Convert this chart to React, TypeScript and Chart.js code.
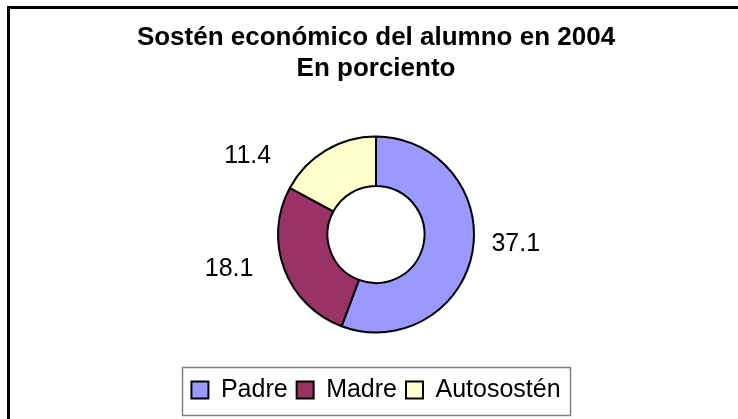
import React, { useEffect, useRef } from "react";
import { Chart, registerables } from "chart.js";

Chart.register(...registerables);

const TITLE_LINES = ["Sostén económico del alumno en 2004", "En porciento"];
const CATEGORIES = ["Padre", "Madre", "Autosostén"];
const VALUES = [37.1, 18.1, 11.4];
const VALUE_LABELS = ["37.1", "18.1", "11.4"];
const COLORS = ["#9999FF", "#993366", "#FFFFCC"];
// small nudges for the data labels relative to their computed anchor
const LABEL_NUDGE: [number, number][] = [
  [-1, -16],
  [-13, -16],
  [-55, 44],
];

const FONT = "'Liberation Sans', Arial, sans-serif";

const framePlugin = {
  id: "frame",
  beforeDraw(chart: any) {
    const ctx = chart.ctx;
    ctx.save();
    ctx.fillStyle = "#ffffff";
    ctx.fillRect(0, 0, chart.width, chart.height);
    ctx.fillStyle = "#000000";
    ctx.fillRect(7, 6, 3, chart.height - 6);
    ctx.fillRect(7, 6, chart.width - 7, 3);
    ctx.restore();
  },
  afterDraw(chart: any) {
    const ctx = chart.ctx;
    const legend = chart.legend;
    if (legend && legend.legendHitBoxes && legend.legendHitBoxes.length) {
      const hb = legend.legendHitBoxes;
      const first = hb[0];
      const last = hb[hb.length - 1];
      const cy = first.top + first.height / 2;
      const left = first.left - 9;
      const right = last.left + last.width + 10;
      ctx.save();
      ctx.strokeStyle = "#808080";
      ctx.lineWidth = 1.5;
      ctx.strokeRect(Math.round(left) + 0.5, Math.round(cy - 23.5) + 0.5, Math.round(right - left), 48);
      ctx.restore();
    }
  },
};

const labelPlugin = {
  id: "valueLabels",
  afterDatasetsDraw(chart: any) {
    const ctx = chart.ctx;
    const meta = chart.getDatasetMeta(0);
    ctx.save();
    ctx.font = `25px ${FONT}`;
    ctx.fillStyle = "#000000";
    ctx.textAlign = "center";
    ctx.textBaseline = "middle";
    meta.data.forEach((arc: any, i: number) => {
      const p = arc.getProps(["x", "y", "startAngle", "endAngle", "outerRadius"], true);
      const mid = (p.startAngle + p.endAngle) / 2;
      const d = p.outerRadius + 45;
      const nx = LABEL_NUDGE[i] ? LABEL_NUDGE[i][0] : 0;
      const ny = LABEL_NUDGE[i] ? LABEL_NUDGE[i][1] : 0;
      const x = p.x + Math.cos(mid) * d + nx;
      const y = p.y + Math.sin(mid) * d + ny;
      ctx.fillText(VALUE_LABELS[i], x, y);
    });
    ctx.restore();
  },
};

export default function App() {
  const ref = useRef<HTMLCanvasElement | null>(null);

  useEffect(() => {
    document.body.style.margin = "0";
    if (!ref.current) return;
    const chart = new Chart(ref.current, {
      type: "doughnut",
      data: {
        labels: CATEGORIES,
        datasets: [
          {
            data: VALUES,
            backgroundColor: COLORS,
            borderColor: "#000000",
            borderWidth: 2,
            radius: 98,
          } as any,
        ],
      },
      options: {
        animation: false,
        responsive: false,
        maintainAspectRatio: false,
        events: [],
        cutout: "49.5%",
        layout: { padding: { top: 0, left: 14, right: 0, bottom: 6.5 } },
        plugins: {
          title: {
            display: true,
            text: TITLE_LINES,
            color: "#000000",
            font: { family: FONT, size: 26, weight: "bold", lineHeight: 1.2 },
            padding: { top: 22.4, bottom: 15.7 },
          },
          legend: {
            display: true,
            position: "bottom",
            labels: {
              color: "#000000",
              font: { family: FONT, size: 25 },
              boxWidth: 17,
              boxHeight: 17,
              padding: 9,
            },
          },
          tooltip: { enabled: false },
        },
      } as any,
      plugins: [framePlugin, labelPlugin],
    });
    return () => chart.destroy();
  }, []);

  return (
    <div style={{ width: 738, height: 419 }}>
      <canvas ref={ref} width={738} height={419} style={{ display: "block" }} />
    </div>
  );
}
